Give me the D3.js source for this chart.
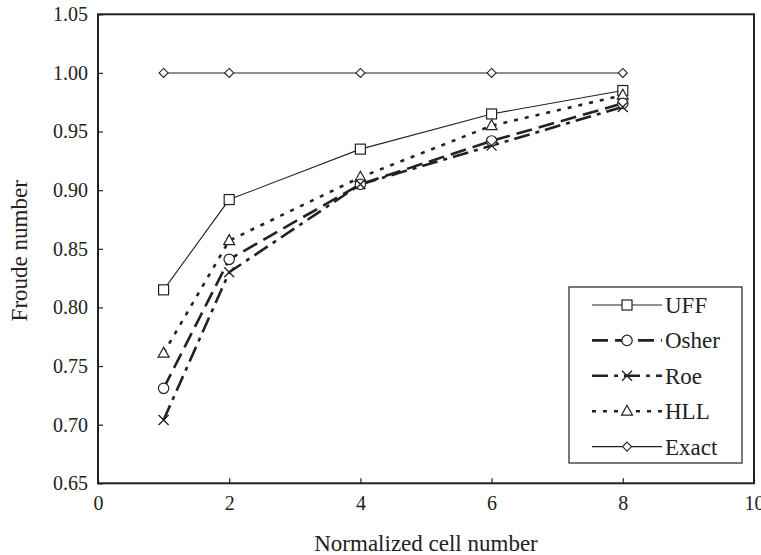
<!DOCTYPE html>
<html>
<head>
<meta charset="utf-8">
<script src="https://cdn.jsdelivr.net/npm/d3@7"></script>
<style>
  body { margin: 0; background: #fff; }
  svg text { font-family: "Liberation Serif", "Times New Roman", Times, "DejaVu Serif", serif !important; }
</style>
</head>
<body>
<svg id="chart" width="761" height="555"></svg>
<script>
const cells = [1, 2, 4, 6, 8];
const uff   = [0.815, 0.892, 0.935, 0.965, 0.985];
const osher = [0.731, 0.841, 0.905, 0.942, 0.974];
const roe   = [0.704, 0.830, 0.905, 0.938, 0.971];
const hll   = [0.761, 0.857, 0.911, 0.955, 0.981];
const exact = [1.000, 1.000, 1.000, 1.000, 1.000];
const xTicks = [0, 2, 4, 6, 8, 10];
const yTicks = [0.65, 0.70, 0.75, 0.80, 0.85, 0.90, 0.95, 1.00, 1.05];
const seriesNames = ["UFF", "Osher", "Roe", "HLL", "Exact"];

const styles = {
  UFF:   { width: 1.1, dash: null, marker: "square" },
  Osher: { width: 2.6, dash: "16,7", marker: "circle" },
  Roe:   { width: 2.6, dash: "16,6,4,6", marker: "cross" },
  HLL:   { width: 2.6, dash: "4,7", marker: "triangle" },
  Exact: { width: 1.1, dash: null, marker: "diamond" }
};
const seriesData = { UFF: uff, Osher: osher, Roe: roe, HLL: hll, Exact: exact };

const FONT = '"Liberation Serif", "Times New Roman", Times, "DejaVu Serif", serif';
const svg = d3.select("#chart");
const L = 98, R = 754, T = 14.3, B = 483.3;
const x = d3.scaleLinear().domain([0, 10]).range([L, R]);
const y = d3.scaleLinear().domain([0.65, 1.05]).range([B, T]);
const ink = "#222";

// frame
svg.append("rect").attr("x", L).attr("y", T).attr("width", R - L).attr("height", B - T)
  .attr("fill", "none").attr("stroke", ink).attr("stroke-width", 2);

// y axis
const yAxis = d3.axisLeft(y).tickValues(yTicks).tickFormat(d3.format(".2f")).tickSize(-5).tickPadding(10);
const gy = svg.append("g").attr("transform", `translate(${L},0)`).call(yAxis);
gy.attr("font-family", FONT);
gy.select(".domain").remove();
gy.selectAll("line").attr("stroke", ink).attr("stroke-width", 1.2);
gy.selectAll("text").attr("font-size", 20).attr("fill", ink).attr("font-family", FONT);

// x axis
const xAxis = d3.axisBottom(x).tickValues(xTicks).tickFormat(d3.format("d")).tickSize(-5).tickPadding(13);
const gx = svg.append("g").attr("transform", `translate(0,${B})`).call(xAxis);
gx.attr("font-family", FONT);
gx.select(".domain").remove();
gx.selectAll("line").attr("stroke", ink).attr("stroke-width", 1.2);
gx.selectAll("text").attr("font-size", 20).attr("fill", ink).attr("font-family", FONT);

// titles
svg.append("text").attr("x", (L + R) / 2).attr("y", 551).attr("text-anchor", "middle")
  .attr("font-family", FONT).attr("font-size", 23).attr("fill", ink).text("Normalized cell number");
svg.append("text").attr("transform", `translate(27,${(T + B) / 2 + 2}) rotate(-90)`)
  .attr("font-family", FONT).attr("text-anchor", "middle").attr("font-size", 23).attr("fill", ink).text("Froude number");

function drawMarker(g, type, cx, cy) {
  const s = 5;
  if (type === "square") {
    g.append("rect").attr("x", cx - s).attr("y", cy - s).attr("width", 2 * s).attr("height", 2 * s)
      .attr("fill", "#fff").attr("stroke", ink).attr("stroke-width", 1.2);
  } else if (type === "circle") {
    g.append("circle").attr("cx", cx).attr("cy", cy).attr("r", 5.2)
      .attr("fill", "#fff").attr("stroke", ink).attr("stroke-width", 1.2);
  } else if (type === "cross") {
    g.append("path").attr("d", `M${cx - s},${cy - s}L${cx + s},${cy + s}M${cx - s},${cy + s}L${cx + s},${cy - s}`)
      .attr("stroke", ink).attr("stroke-width", 1.3).attr("fill", "none");
  } else if (type === "triangle") {
    g.append("path").attr("d", `M${cx},${cy - 6}L${cx + 5.5},${cy + 4}L${cx - 5.5},${cy + 4}Z`)
      .attr("fill", "#fff").attr("stroke", ink).attr("stroke-width", 1.2);
  } else if (type === "diamond") {
    g.append("path").attr("d", `M${cx},${cy - 4.5}L${cx + 4.5},${cy}L${cx},${cy + 4.5}L${cx - 4.5},${cy}Z`)
      .attr("fill", "#fff").attr("stroke", ink).attr("stroke-width", 1.1);
  }
}

const line = d3.line().x((d, i) => x(cells[i])).y(d => y(d));
const plot = svg.append("g");
const order = ["Exact", "UFF", "HLL", "Osher", "Roe"];
order.forEach(name => {
  const st = styles[name];
  plot.append("path").datum(seriesData[name]).attr("d", line)
    .attr("fill", "none").attr("stroke", ink).attr("stroke-width", st.width)
    .attr("stroke-dasharray", st.dash);
});
order.forEach(name => {
  const st = styles[name];
  seriesData[name].forEach((v, i) => drawMarker(plot, st.marker, x(cells[i]), y(v)));
});

// legend
const lg = svg.append("g");
lg.append("rect").attr("x", 569).attr("y", 287).attr("width", 173).attr("height", 176)
  .attr("fill", "#fff").attr("stroke", ink).attr("stroke-width", 1.2);
seriesNames.forEach((name, i) => {
  const st = styles[name];
  const ly = 305 + i * 35.4;
  lg.append("line").attr("x1", 592).attr("x2", 662).attr("y1", ly).attr("y2", ly)
    .attr("stroke", ink).attr("stroke-width", st.width).attr("stroke-dasharray", st.dash);
  drawMarker(lg, st.marker, 627, ly);
  lg.append("text").attr("x", 665).attr("y", ly).attr("dy", "0.35em")
    .attr("font-family", FONT).attr("font-size", 23).attr("fill", ink).text(name);
});
</script>
</body>
</html>
